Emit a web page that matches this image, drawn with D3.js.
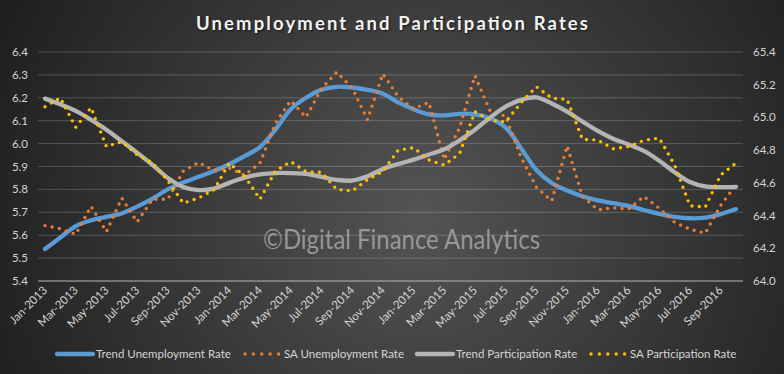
<!DOCTYPE html>
<html>
<head>
<meta charset="utf-8">
<script src="https://cdn.jsdelivr.net/npm/d3@7.9.0/dist/d3.min.js"></script>
<style>
  html, body { margin: 0; padding: 0; background: #262626; }
  svg { display: block; font-family: Lato, 'Open Sans', sans-serif; }
</style>
</head>
<body>
<svg id="chart" width="784" height="374"></svg>
<script>
const months = [
  'Jan-2013', 'Feb-2013', 'Mar-2013', 'Apr-2013', 'May-2013', 'Jun-2013', 'Jul-2013', 'Aug-2013', 'Sep-2013', 'Oct-2013', 'Nov-2013', 'Dec-2013',
  'Jan-2014', 'Feb-2014', 'Mar-2014', 'Apr-2014', 'May-2014', 'Jun-2014', 'Jul-2014', 'Aug-2014', 'Sep-2014', 'Oct-2014', 'Nov-2014', 'Dec-2014',
  'Jan-2015', 'Feb-2015', 'Mar-2015', 'Apr-2015', 'May-2015', 'Jun-2015', 'Jul-2015', 'Aug-2015', 'Sep-2015', 'Oct-2015', 'Nov-2015', 'Dec-2015',
  'Jan-2016', 'Feb-2016', 'Mar-2016', 'Apr-2016', 'May-2016', 'Jun-2016', 'Jul-2016', 'Aug-2016', 'Sep-2016', 'Oct-2016'
];

const trendUnemployment = [
  5.54, 5.59, 5.64, 5.665, 5.68, 5.695, 5.725, 5.76, 5.80, 5.83, 5.855, 5.88,
  5.91, 5.945, 5.985, 6.06, 6.15, 6.20, 6.235, 6.248, 6.245, 6.235, 6.218, 6.18,
  6.15, 6.128, 6.123, 6.13, 6.128, 6.11, 6.07, 5.98, 5.885, 5.828, 5.795, 5.77,
  5.752, 5.74, 5.728, 5.71, 5.693, 5.68, 5.674, 5.677, 5.692, 5.714
];

const saUnemployment = [
  5.642, 5.628, 5.604, 5.726, 5.615, 5.762, 5.658, 5.757, 5.757, 5.879, 5.918, 5.883,
  5.893, 5.862, 5.915, 6.088, 6.188, 6.115, 6.24, 6.312, 6.244, 6.104, 6.305, 6.205,
  6.152, 6.18, 5.93, 6.07, 6.297, 6.14, 6.12, 5.94, 5.81, 5.75, 5.99, 5.77,
  5.711, 5.72, 5.714, 5.769, 5.718, 5.657, 5.626, 5.609, 5.73, 5.82
];

const trendParticipation = [
  65.115, 65.08, 65.04, 64.985, 64.925, 64.855, 64.785, 64.71, 64.63, 64.575, 64.556, 64.565,
  64.6, 64.632, 64.652, 64.66, 64.66, 64.655, 64.637, 64.618, 64.614, 64.64, 64.685, 64.715,
  64.742, 64.773, 64.805, 64.86, 64.925, 65.0, 65.066, 65.107, 65.123, 65.085, 65.035, 64.975,
  64.918, 64.87, 64.835, 64.795, 64.735, 64.665, 64.605, 64.578, 64.574, 64.576
];

const saParticipation = [
  65.065, 65.12, 64.94, 65.06, 64.822, 64.852, 64.772, 64.722, 64.614, 64.476, 64.507, 64.558,
  64.72, 64.642, 64.5, 64.672, 64.73, 64.668, 64.664, 64.56, 64.55, 64.62, 64.67, 64.8,
  64.815, 64.74, 64.708, 64.78, 65.035, 64.984, 64.972, 65.09, 65.188, 65.118, 65.11, 64.866,
  64.862, 64.808, 64.822, 64.86, 64.874, 64.71, 64.46, 64.452, 64.648, 64.72
];

const leftTicks = [5.4, 5.5, 5.6, 5.7, 5.8, 5.9, 6.0, 6.1, 6.2, 6.3, 6.4];
const rightTicks = [64.0, 64.2, 64.4, 64.6, 64.8, 65.0, 65.2, 65.4];

const series = [
  { name: 'Trend Unemployment Rate', values: trendUnemployment, axis: 'left', color: '#5b9bd5', dotted: false },
  { name: 'SA Unemployment Rate', values: saUnemployment, axis: 'left', color: '#ed7d31', dotted: true },
  { name: 'Trend Participation Rate', values: trendParticipation, axis: 'right', color: '#b4b4b4', dotted: false },
  { name: 'SA Participation Rate', values: saParticipation, axis: 'right', color: '#ffc000', dotted: true }
];

const width = 784;
const height = 374;
const svg = d3.select('#chart');

// background gradient
const defs = svg.append('defs');
const grad = defs.append('radialGradient')
  .attr('id', 'bg')
  .attr('gradientUnits', 'userSpaceOnUse')
  .attr('cx', 420).attr('cy', 215).attr('r', 470);
grad.append('stop').attr('offset', '0%').attr('stop-color', '#545454');
grad.append('stop').attr('offset', '100%').attr('stop-color', '#1e1e1e');

svg.append('rect')
  .attr('width', width).attr('height', height)
  .attr('fill', 'url(#bg)');

const x = d3.scalePoint().domain(months).range([45, 736]);
const yLeft = d3.scaleLinear().domain([5.4, 6.4]).range([281, 52]);
const yRight = d3.scaleLinear().domain([64.0, 65.4]).range([281, 52]);

const gridLeft = 38;
const gridRight = 743;

// gridlines
svg.append('g')
  .selectAll('line')
  .data(leftTicks)
  .join('line')
  .attr('x1', gridLeft).attr('x2', gridRight)
  .attr('y1', (d) => yLeft(d)).attr('y2', (d) => yLeft(d))
  .attr('stroke', (d) => (d === 5.4 ? '#b8b8b8' : 'rgba(255,255,255,0.2)'))
  .attr('stroke-width', 1);

const tickColor = '#d4d4d4';
const fmt = d3.format('.1f');

svg.append('g')
  .selectAll('text')
  .data(leftTicks)
  .join('text')
  .attr('x', 28).attr('y', (d) => yLeft(d))
  .attr('dy', '0.35em')
  .attr('text-anchor', 'end')
  .attr('font-size', 11.5)
  .attr('fill', tickColor)
  .text(fmt);

svg.append('g')
  .selectAll('text')
  .data(rightTicks)
  .join('text')
  .attr('x', 753).attr('y', (d) => yRight(d))
  .attr('dy', '0.35em')
  .attr('text-anchor', 'start')
  .attr('font-size', 11.5)
  .attr('fill', tickColor)
  .text(fmt);

// x labels, every second month
svg.append('g')
  .selectAll('text')
  .data(months.filter((_, i) => i % 2 === 0))
  .join('text')
  .attr('transform', (d) => `translate(${x(d) + 3},${291}) rotate(-45)`)
  .attr('text-anchor', 'end')
  .attr('font-size', 11.5)
  .attr('fill', tickColor)
  .text((d) => d);

// watermark
svg.append('text')
  .attr('x', 263).attr('y', 249)
  .attr('font-size', 26)
  .attr('textLength', 277)
  .attr('lengthAdjust', 'spacingAndGlyphs')
  .attr('fill', '#a6a6a6')
  .attr('fill-opacity', 0.85)
  .text('©Digital Finance Analytics');

// lines
series.forEach((s) => {
  const y = s.axis === 'left' ? yLeft : yRight;
  const line = d3.line()
    .x((d, i) => x(months[i]))
    .y((d) => y(d))
    .curve(s.dotted ? d3.curveLinear : d3.curveCatmullRom.alpha(0.5));

  const path = svg.append('path')
    .datum(s.values)
    .attr('d', line)
    .attr('fill', 'none')
    .attr('stroke', s.color)
    .attr('stroke-linecap', 'round')
    .attr('stroke-linejoin', 'round');

  if (s.dotted) {
    path.attr('stroke-width', 3.4).attr('stroke-dasharray', '0 7.3');
  } else {
    path.attr('stroke-width', 4.3);
  }
});

// title
svg.append('text')
  .attr('x', 196).attr('y', 30)
  .attr('font-size', 18.5)
  .attr('font-weight', 700)
  .attr('textLength', 392)
  .attr('lengthAdjust', 'spacing')
  .attr('fill', '#f2f2f2')
  .style('text-shadow', '1px 1px 2px rgba(0,0,0,0.6)')
  .text('Unemployment and Participation Rates');

// legend
const legendY = 354;
const legendItems = [
  { s: series[0], x0: 57 },
  { s: series[1], x0: 245 },
  { s: series[2], x0: 417 },
  { s: series[3], x0: 591 }
];

legendItems.forEach(({ s, x0 }) => {
  const sample = svg.append('line')
    .attr('x1', x0).attr('x2', x0 + 36)
    .attr('y1', legendY).attr('y2', legendY)
    .attr('stroke', s.color)
    .attr('stroke-linecap', 'round');
  if (s.dotted) {
    sample.attr('stroke-width', 3.4).attr('stroke-dasharray', '0 8.4');
  } else {
    sample.attr('stroke-width', 4.3);
  }
  svg.append('text')
    .attr('x', x0 + 39).attr('y', legendY)
    .attr('dy', '0.35em')
    .attr('font-size', 11.5)
    .attr('fill', tickColor)
    .text(s.name);
});
</script>
</body>
</html>
